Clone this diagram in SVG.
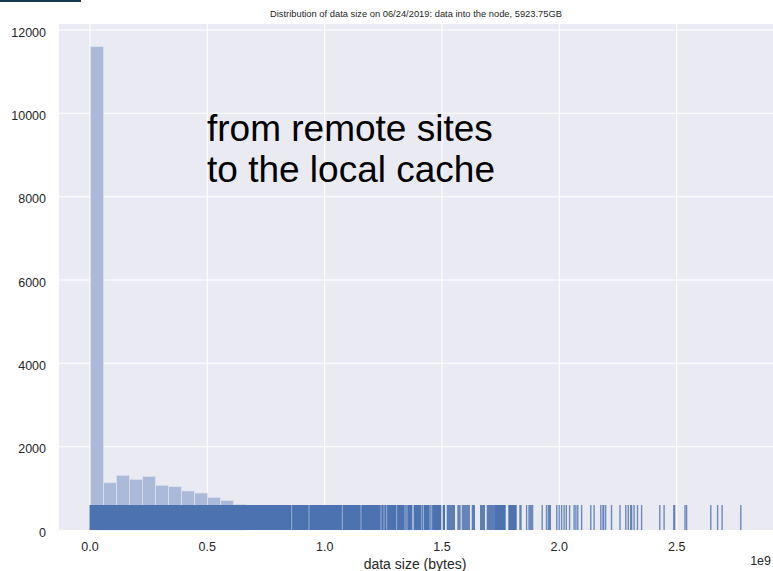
<svg xmlns="http://www.w3.org/2000/svg" width="773" height="571" viewBox="0 0 773 571">
<style>
.grid{stroke:#ffffff;stroke-width:1.1;fill:none}
.tick{font-family:"Liberation Sans",Arial,sans-serif;font-size:12.5px;fill:#262626}
.bar{fill:#abbad8;stroke:#dbe1ee;stroke-width:0.8}
.rug{fill:#4c72b0}
.rl{stroke:#4c72b0;stroke-width:1.4;stroke-opacity:0.8}
.gap{stroke:#c9d3e8;stroke-width:0.9;stroke-opacity:0.7}
</style>
<rect width="773" height="571" fill="#ffffff"/>
<rect x="0" y="0" width="81" height="2" fill="#17384f"/>
<g id="plot-area">
<rect x="59" y="24" width="714" height="506" fill="#eaeaf2"/>
<g id="gridlines">
<line class="grid" x1="90" y1="24" x2="90" y2="530"/>
<line class="grid" x1="207.3" y1="24" x2="207.3" y2="530"/>
<line class="grid" x1="324.7" y1="24" x2="324.7" y2="530"/>
<line class="grid" x1="442" y1="24" x2="442" y2="530"/>
<line class="grid" x1="559.3" y1="24" x2="559.3" y2="530"/>
<line class="grid" x1="676.7" y1="24" x2="676.7" y2="530"/>
<line class="grid" x1="59" y1="446.7" x2="773" y2="446.7"/>
<line class="grid" x1="59" y1="363.3" x2="773" y2="363.3"/>
<line class="grid" x1="59" y1="280" x2="773" y2="280"/>
<line class="grid" x1="59" y1="196.7" x2="773" y2="196.7"/>
<line class="grid" x1="59" y1="113.3" x2="773" y2="113.3"/>
<line class="grid" x1="59" y1="30" x2="773" y2="30"/>
</g>
</g>
<g id="histogram">
<rect class="bar" x="90.5" y="46.7" width="13" height="483.3"/>
<rect class="bar" x="103.5" y="482.7" width="13" height="47.3"/>
<rect class="bar" x="116.5" y="475.3" width="13" height="54.7"/>
<rect class="bar" x="129.5" y="479.3" width="13" height="50.7"/>
<rect class="bar" x="142.5" y="476.3" width="13" height="53.7"/>
<rect class="bar" x="155.5" y="485.3" width="13" height="44.7"/>
<rect class="bar" x="168.5" y="486.7" width="13" height="43.3"/>
<rect class="bar" x="181.5" y="491" width="13" height="39"/>
<rect class="bar" x="194.5" y="493" width="13" height="37"/>
<rect class="bar" x="207.5" y="497.3" width="13" height="32.7"/>
<rect class="bar" x="220.5" y="500.3" width="13" height="29.7"/>
<rect class="bar" x="233.5" y="504.3" width="13" height="25.7"/>
</g>
<g id="rug">
<rect class="rug" x="89.5" y="505" width="351" height="25"/>
<g id="rug-gaps">
<line class="gap" x1="291.7" y1="505" x2="291.7" y2="530"/>
<line class="gap" x1="309" y1="505" x2="309" y2="530"/>
<line class="gap" x1="342.3" y1="505" x2="342.3" y2="530"/>
<line class="gap" x1="361" y1="505" x2="361" y2="530"/>
<line class="gap" x1="381" y1="505" x2="381" y2="530"/>
<line class="gap" x1="384" y1="505" x2="384" y2="530"/>
<line class="gap" x1="386.7" y1="505" x2="386.7" y2="530"/>
<line class="gap" x1="396.7" y1="505" x2="396.7" y2="530"/>
<line class="gap" x1="405" y1="505" x2="405" y2="530"/>
<line class="gap" x1="407" y1="505" x2="407" y2="530"/>
<line class="gap" x1="413" y1="505" x2="413" y2="530" style="stroke:#e3e7f1;stroke-width:1.6"/>
<line class="gap" x1="421.7" y1="505" x2="421.7" y2="530"/>
<line class="gap" x1="423.5" y1="505" x2="423.5" y2="530"/>
<line class="gap" x1="430" y1="505" x2="430" y2="530"/>
<line class="gap" x1="431.7" y1="505" x2="431.7" y2="530"/>
</g>
<rect class="rug" x="440" y="505" width="1.3" height="25"/>
<rect class="rug" x="442.7" y="505" width="2.3" height="25"/>
<rect class="rug" x="446.7" y="505" width="8.3" height="25" opacity="0.9"/>
<rect class="rug" x="457.3" y="505" width="3.4" height="25" opacity="0.85"/>
<rect class="rug" x="461.7" y="505" width="8.3" height="25" opacity="0.85"/>
<rect class="rug" x="471.7" y="505" width="3.3" height="25" opacity="0.9"/>
<rect class="rug" x="480" y="505" width="5" height="25" opacity="0.9"/>
<rect class="rug" x="486.7" y="505" width="8.3" height="25" opacity="0.9"/>
<rect class="rug" x="495" y="505" width="10.7" height="25"/>
<rect class="rug" x="508.3" y="505" width="8.4" height="25"/>
<rect class="rug" x="519.3" y="505" width="2.4" height="25" opacity="0.85"/>
<rect class="rug" x="528.3" y="505" width="5" height="25" opacity="0.8"/>
<line class="rl" x1="526.6" y1="505" x2="526.6" y2="530"/>
<line class="rl" x1="542.2" y1="505" x2="542.2" y2="530"/>
<line class="rl" x1="546.5" y1="505" x2="546.5" y2="530"/>
<rect class="rug" x="547.7" y="505" width="3.3" height="25" opacity="0.85"/>
<line class="rl" x1="556.8" y1="505" x2="556.8" y2="530"/>
<line class="rl" x1="559.2" y1="505" x2="559.2" y2="530"/>
<line class="rl" x1="561.6" y1="505" x2="561.6" y2="530"/>
<line class="rl" x1="564.1" y1="505" x2="564.1" y2="530"/>
<line class="rl" x1="566.3" y1="505" x2="566.3" y2="530"/>
<line class="rl" x1="569.6" y1="505" x2="569.6" y2="530"/>
<line class="rl" x1="574.1" y1="505" x2="574.1" y2="530"/>
<line class="rl" x1="575.9" y1="505" x2="575.9" y2="530"/>
<line class="rl" x1="577.8" y1="505" x2="577.8" y2="530"/>
<line class="rl" x1="581.6" y1="505" x2="581.6" y2="530"/>
<line class="rl" x1="590.8" y1="505" x2="590.8" y2="530"/>
<line class="rl" x1="594.1" y1="505" x2="594.1" y2="530"/>
<line class="rl" x1="600.8" y1="505" x2="600.8" y2="530"/>
<rect class="rug" x="602.3" y="505" width="2" height="25" opacity="0.85"/>
<line class="rl" x1="605.6" y1="505" x2="605.6" y2="530"/>
<line class="rl" x1="611.5" y1="505" x2="611.5" y2="530"/>
<line class="rl" x1="620" y1="505" x2="620" y2="530"/>
<line class="rl" x1="625.8" y1="505" x2="625.8" y2="530"/>
<line class="rl" x1="628.3" y1="505" x2="628.3" y2="530"/>
<rect class="rug" x="630" y="505" width="2.3" height="25" opacity="0.85"/>
<line class="rl" x1="634.1" y1="505" x2="634.1" y2="530"/>
<line class="rl" x1="637.5" y1="505" x2="637.5" y2="530"/>
<line class="rl" x1="641.6" y1="505" x2="641.6" y2="530"/>
<line class="rl" x1="659.8" y1="505" x2="659.8" y2="530"/>
<line class="rl" x1="664.1" y1="505" x2="664.1" y2="530"/>
<line class="rl" x1="673.8" y1="505" x2="673.8" y2="530"/>
<line class="rl" x1="674.6" y1="505" x2="674.6" y2="530"/>
<line class="rl" x1="685" y1="505" x2="685" y2="530"/>
<line class="rl" x1="686.6" y1="505" x2="686.6" y2="530"/>
<line class="rl" x1="710.8" y1="505" x2="710.8" y2="530"/>
<line class="rl" x1="717.6" y1="505" x2="717.6" y2="530"/>
<line class="rl" x1="722.1" y1="505" x2="722.1" y2="530"/>
<line class="rl" x1="740.8" y1="505" x2="740.8" y2="530"/>
</g>
<g id="title">
<text x="416" y="17" text-anchor="middle" textLength="292" lengthAdjust="spacingAndGlyphs" style="font-family:'Liberation Sans',Arial,sans-serif;font-size:9px;fill:#262626">Distribution of data size on 06/24/2019: data into the node, 5923.75GB</text>
</g>
<g id="y-axis-labels" class="tick" text-anchor="end">
<text x="46" y="536.5">0</text>
<text x="46" y="453">2000</text>
<text x="46" y="369.8">4000</text>
<text x="46" y="286.5">6000</text>
<text x="46" y="203.2">8000</text>
<text x="46" y="119.8">10000</text>
<text x="46" y="36.5">12000</text>
</g>
<g id="x-axis-labels" class="tick" text-anchor="middle">
<text x="90" y="551">0.0</text>
<text x="207.3" y="551">0.5</text>
<text x="324.7" y="551">1.0</text>
<text x="442" y="551">1.5</text>
<text x="559.3" y="551">2.0</text>
<text x="676.7" y="551">2.5</text>
</g>
<text x="771" y="565" class="tick" text-anchor="end">1e9</text>
<text x="415" y="568.5" text-anchor="middle" style="font-family:'Liberation Sans',Arial,sans-serif;font-size:14px;fill:#262626">data size (bytes)</text>
<g id="annotation" style="font-family:'Liberation Sans',Arial,sans-serif;font-size:37px;fill:#000000">
<text x="207" y="140.7">from remote sites</text>
<text x="207" y="181.7">to the local cache</text>
</g>
</svg>
